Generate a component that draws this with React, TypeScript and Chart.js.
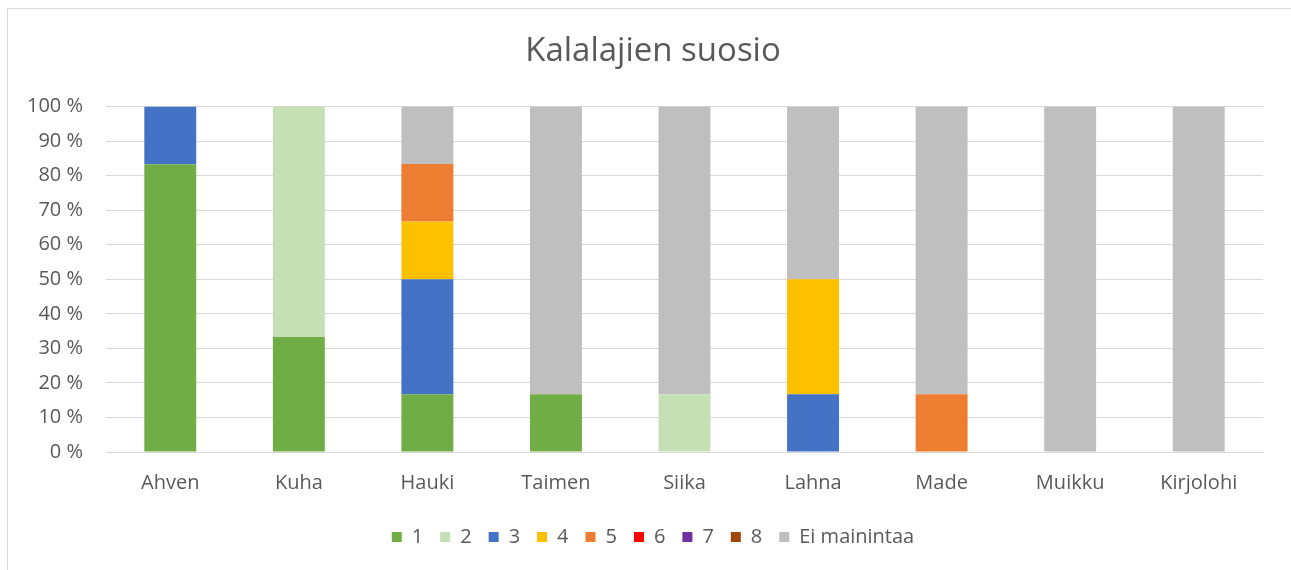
import React, { useEffect, useRef } from "react";
import { Chart, registerables } from "chart.js";

Chart.register(...registerables);

const categories = ["Ahven", "Kuha", "Hauki", "Taimen", "Siika", "Lahna", "Made", "Muikku", "Kirjolohi"];
const seriesNames = ["1", "2", "3", "4", "5", "6", "7", "8", "Ei mainintaa"];
const seriesColors = ["#70AD47", "#C5E0B4", "#4472C4", "#FFC000", "#ED7D31", "#FF0000", "#7030A0", "#9E480E", "#BFBFBF"];

const s1 = [83.3, 33.3, 16.7, 16.7, 0, 0, 0, 0, 0];
const s2 = [0, 66.7, 0, 0, 16.7, 0, 0, 0, 0];
const s3 = [16.7, 0, 33.3, 0, 0, 16.7, 0, 0, 0];
const s4 = [0, 0, 16.7, 0, 0, 33.3, 0, 0, 0];
const s5 = [0, 0, 16.7, 0, 0, 0, 16.7, 0, 0];
const s6 = [0, 0, 0, 0, 0, 0, 0, 0, 0];
const s7 = [0, 0, 0, 0, 0, 0, 0, 0, 0];
const s8 = [0, 0, 0, 0, 0, 0, 0, 0, 0];
const sEi = [0, 0, 16.6, 83.3, 83.3, 50, 83.3, 100, 100];

const yTicks = [0, 10, 20, 30, 40, 50, 60, 70, 80, 90, 100];

const FONT = "'Open Sans', sans-serif";
const TEXT = "#595959";
const GRID = "#D9D9D9";

const W = 1290;
const H = 548;
const AREA_BOTTOM = 443;

export default function App() {
  const ref = useRef<HTMLCanvasElement | null>(null);

  useEffect(() => {
    if (!ref.current) return;
    const all = [s1, s2, s3, s4, s5, s6, s7, s8, sEi];
    const chart = new Chart(ref.current, {
      type: "bar",
      data: {
        labels: categories,
        datasets: all.map((d, i) => ({
          label: seriesNames[i],
          data: d,
          backgroundColor: seriesColors[i],
          borderWidth: 0,
          barPercentage: 0.404,
          categoryPercentage: 1,
          yAxisID: "y",
        })),
      },
      options: {
        responsive: false,
        animation: false,
        devicePixelRatio: 1,
        layout: { padding: { left: 0, right: 0, top: 0, bottom: 0 } },
        plugins: {
          tooltip: { enabled: false },
          title: {
            display: true,
            text: "Kalalajien suosio",
            color: TEXT,
            font: { family: FONT, size: 33, weight: "normal" },
            padding: { top: 23, bottom: 35 },
          },
          legend: {
            display: true,
            position: "bottom",
            labels: {
              color: TEXT,
              font: { family: FONT, size: 20 },
              boxWidth: 10,
              boxHeight: 10,
              padding: 17,
            },
          },
        },
        scales: {
          x: {
            stacked: true,
            grid: { display: false, drawTicks: false },
            border: { display: true, color: GRID },
            ticks: { color: TEXT, font: { family: FONT, size: 20 }, padding: 19 },
            afterFit: (s: any) => {
              const lg = s.chart.legend ? s.chart.legend.height : 0;
              s.height = s.chart.height - lg - AREA_BOTTOM;
            },
          },
          y: {
            stacked: true,
            min: 0,
            max: 100,
            afterBuildTicks: (s: any) => {
              s.ticks = yTicks.map((v) => ({ value: v }));
            },
            grid: { color: GRID, lineWidth: 1, drawTicks: false },
            border: { display: false },
            ticks: {
              color: TEXT,
              font: { family: FONT, size: 20 },
              padding: 23,
              callback: (v: any) => `${v} %`,
            },
            afterFit: (s: any) => {
              s.width = 98;
            },
          },
          yR: {
            position: "right",
            display: true,
            grid: { display: false, drawTicks: false },
            border: { display: false },
            ticks: { display: false },
            afterFit: (s: any) => {
              s.width = 35;
            },
          },
        },
      },
    });
    return () => chart.destroy();
  }, []);

  return (
    <div style={{ position: "fixed", left: 0, top: 0, width: 1291, height: 570, overflow: "hidden", background: "#fff" }}>
      <div
        style={{
          position: "absolute",
          left: 7,
          top: 8,
          width: 1400,
          height: 700,
          borderLeft: `1px solid ${GRID}`,
          borderTop: `1px solid ${GRID}`,
          background: "#fff",
        }}
      >
        <canvas ref={ref} width={W} height={H} style={{ display: "block", width: W, height: H }} />
      </div>
    </div>
  );
}
